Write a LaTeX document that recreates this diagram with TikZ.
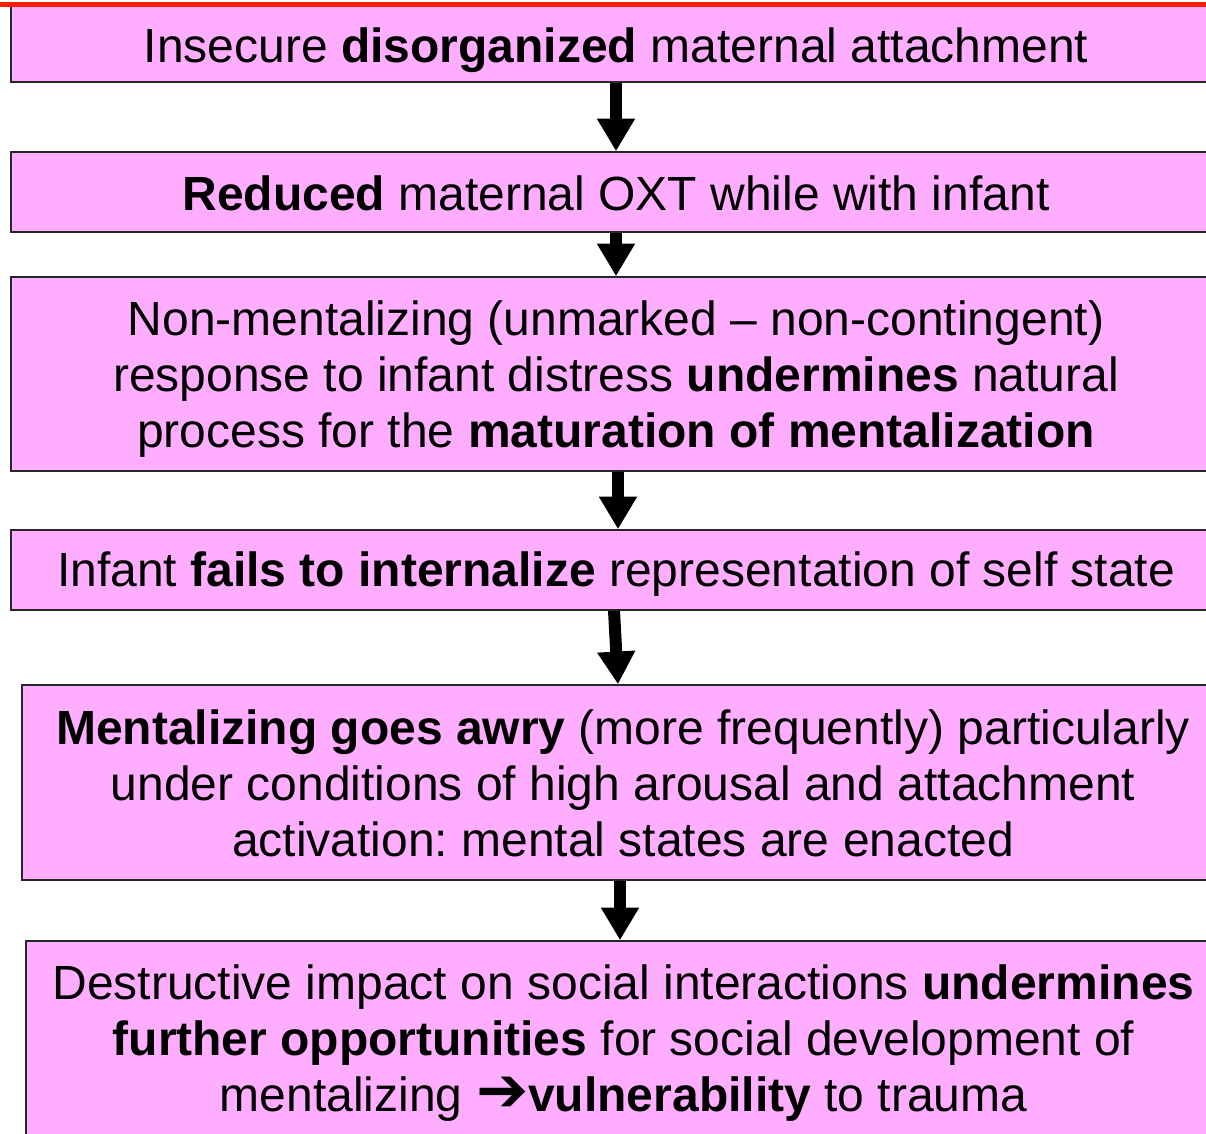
\documentclass[tikz,border=0pt]{standalone}
\usepackage{fontspec}
\setmainfont{Liberation Sans}
\newfontfamily\symfont{DejaVu Sans}
\usetikzlibrary{arrows.meta}
\frenchspacing
\definecolor{boxpink}{RGB}{255,174,255}
\definecolor{topred}{RGB}{250,30,0}
\tikzset{
  flowbox/.style={draw=black!85, line width=1.2pt, fill=boxpink, inner sep=0pt},
  flowtext/.style={inner sep=0pt, anchor=base, align=center,
    font=\fontsize{36}{42}\selectfont\frenchspacing},
  flowarrow/.style={line width=9pt, -{Triangle[length=24.5pt,width=27pt]}, black}
}
\begin{document}
\begin{tikzpicture}[x=0.75pt,y=-0.75pt]
\useasboundingbox (0,0) rectangle (1206,1133);
\clip (0,0) rectangle (1206,1133);
\fill[white] (0,0) rectangle (1206,1133);
% boxes
\node[flowbox, minimum width=907.5pt, minimum height=57pt] (b1) at (616,44) {};
\node[flowbox, minimum width=907.5pt, minimum height=60pt] (b2) at (616,192) {};
\node[flowbox, minimum width=907.5pt, minimum height=145.5pt] (b3) at (616,374) {};
\node[flowbox, minimum width=907.5pt, minimum height=60pt] (b4) at (616,570) {};
\node[flowbox, minimum width=901.5pt, minimum height=146.25pt] (b5) at (623,782.5) {};
\node[flowbox, minimum width=896.25pt, minimum height=148.5pt] (b6) at (623.5,1040) {};
% texts (base anchor = baseline of the last line)
\node[flowtext] (t1) at (616,62) {Insecure \textbf{disorganized} maternal attachment};
\node[flowtext] (t2) at (616,210.5) {\textbf{Reduced} maternal OXT while with infant};
\node[flowtext] (t3) at (616,447.5)
  {Non-mentalizing (unmarked – non-contingent)\\ response to infant distress \textbf{undermines} natural\\ process for the \textbf{maturation of mentalization}};
\node[flowtext] (t4) at (616,586.5) {Infant \textbf{fails to internalize} representation of self state};
\node[flowtext] (t5) at (623,856)
  {\textbf{Mentalizing goes awry} (more frequently) particularly\\ under conditions of high arousal and attachment\\ activation: mental states are enacted};
\node[flowtext] (t6) at (623.5,1111.5)
  {Destructive impact on social interactions \textbf{undermines}\\ \textbf{further opportunities} for social development of\\ mentalizing {\symfont\bfseries\scalebox{1.3}{➔}}\textbf{vulnerability} to trauma};
\fill[topred] (0,1.5) rectangle (1206,6.5);
% arrows
\coordinate (a1s) at (616,82);  \coordinate (a1e) at (616,152);
\coordinate (a2s) at (616,232); \coordinate (a2e) at (616,276);
\coordinate (a3s) at (618,471); \coordinate (a3e) at (618,530);
\coordinate (a4s) at (614,610); \coordinate (a4e) at (618,684);
\coordinate (a5s) at (620,880); \coordinate (a5e) at (620,941);
\draw[flowarrow] (b1.south -| a1s) -- (b2.north -| a1e);
\draw[flowarrow] (b2.south -| a2s) -- (b3.north -| a2e);
\draw[flowarrow] (b3.south -| a3s) -- (b4.north -| a3e);
\draw[flowarrow] (b4.south -| a4s) -- (b5.north -| a4e);
\draw[flowarrow] (b5.south -| a5s) -- (b6.north -| a5e);
\end{tikzpicture}
\end{document}
